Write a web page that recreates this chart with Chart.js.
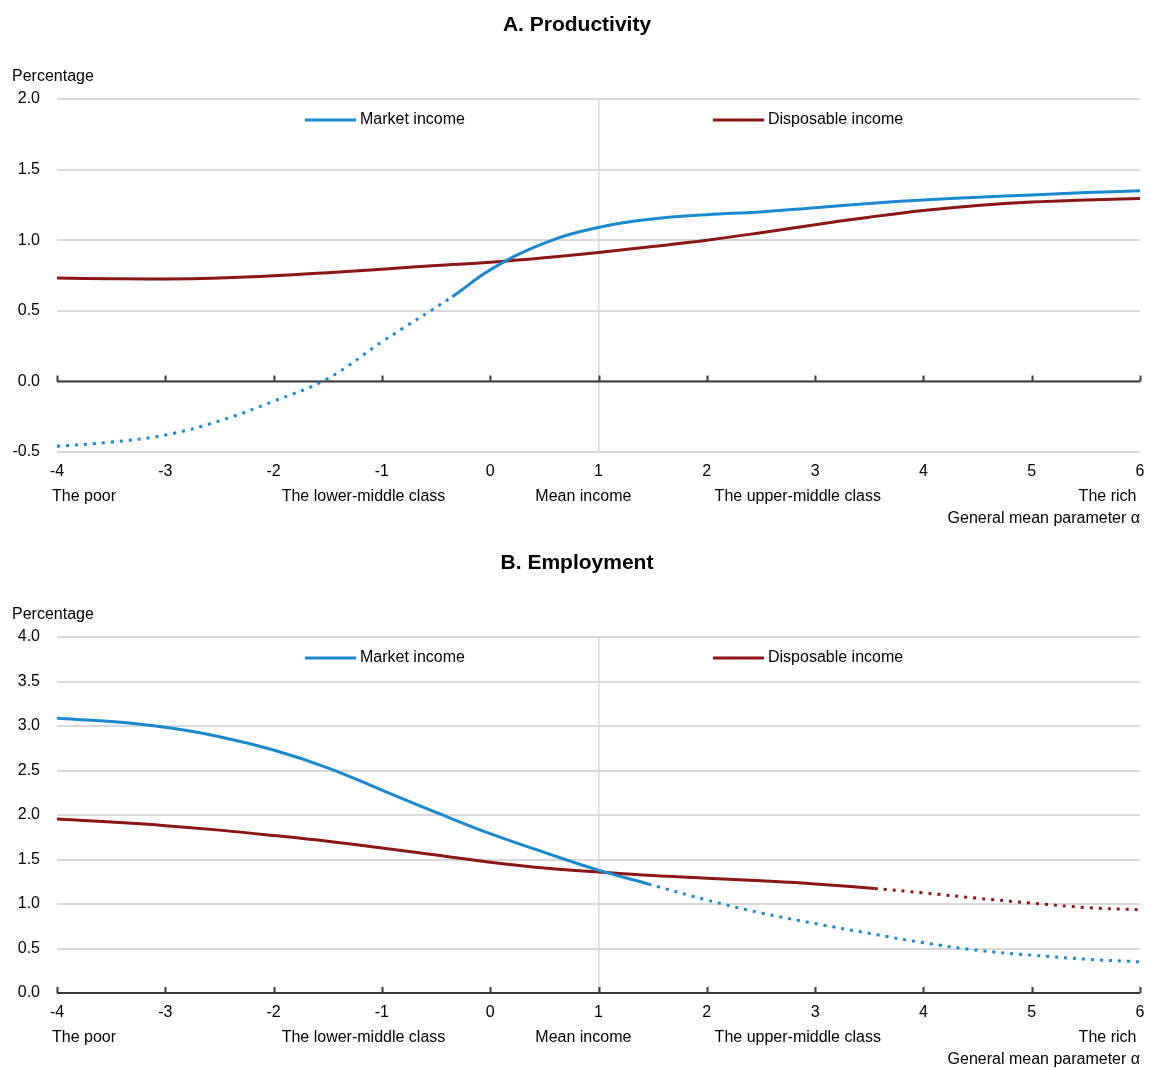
<!DOCTYPE html>
<html>
<head>
<meta charset="utf-8">
<script src="https://cdn.jsdelivr.net/npm/chart.js@4.4.1/dist/chart.umd.min.js"></script>
<style>
  html, body { margin: 0; padding: 0; background: #fff; }
  canvas { display: block; }
</style>
</head>
<body>
<canvas id="chartA" width="1149" height="538"></canvas>
<canvas id="chartB" width="1149" height="530"></canvas>
<script>
// --- data ---
const classLabels = ['The poor', 'The lower-middle class', 'Mean income', 'The upper-middle class', 'The rich'];
const classAt = [-3.75, -1.17, 0.86, 2.84, 5.7];   // centre of each class label, in alpha units

// Panel A: productivity
const alphaMarketA = [-4, -3.5, -3, -2.5, -2, -1.5, -1, -0.35, 0, 0.5, 1, 1.5, 2, 2.5, 3, 3.5, 4, 4.5, 5, 5.5, 6];
const marketA      = [-0.46, -0.43, -0.38, -0.28, -0.14, 0.02, 0.28, 0.60, 0.79, 0.98, 1.09, 1.15, 1.18, 1.20, 1.23, 1.26, 1.285, 1.305, 1.32, 1.337, 1.35];
const alphaDispA   = [-4, -3.5, -3, -2.5, -2, -1.5, -1, -0.5, 0, 0.5, 1, 1.5, 2, 2.5, 3, 3.5, 4, 4.5, 5, 5.5, 6];
const dispA        = [0.732, 0.727, 0.726, 0.733, 0.748, 0.77, 0.795, 0.82, 0.843, 0.875, 0.913, 0.955, 1.0, 1.053, 1.11, 1.163, 1.21, 1.245, 1.27, 1.285, 1.295];
const dottedMarketA = [-4, -0.35];

// Panel B: employment
const alphaMarketB = [-4, -3.5, -3, -2.5, -2, -1.5, -1, -0.5, 0, 0.5, 1, 1.46, 2, 2.5, 3, 3.5, 4, 4.5, 5, 5.5, 6];
const marketB      = [3.086, 3.05, 2.985, 2.88, 2.73, 2.53, 2.28, 2.03, 1.79, 1.58, 1.38, 1.225, 1.045, 0.90, 0.78, 0.67, 0.565, 0.48, 0.425, 0.38, 0.35];
const alphaDispB   = [-4, -3.5, -3, -2.5, -2, -1.5, -1, -0.5, 0, 0.5, 1, 1.5, 2, 2.5, 3, 3.55, 4, 4.5, 5, 5.5, 6];
const dispB        = [1.955, 1.92, 1.88, 1.83, 1.77, 1.705, 1.63, 1.55, 1.47, 1.405, 1.36, 1.32, 1.29, 1.26, 1.225, 1.175, 1.125, 1.065, 1.01, 0.96, 0.935];
const dottedMarketB = [1.46, 6];
const dottedDispB   = [3.55, 6];

const BLUE = '#1a8ad0';
const RED = '#8c1515';
const GRID = '#d9d9d9';
const FONT = '"Liberation Sans", Arial, sans-serif';

function lineDs(label, xs, ys, color, dotted){
  return {
    label,
    data: xs.map((x, i) => ({ x, y: ys[i] })),
    borderColor: color,
    borderWidth: 3,
    pointRadius: 0,
    fill: false,
    tension: 0.4,
    segment: {
      borderDash: ctx => (dotted && ctx.p0.parsed.x >= dotted[0] - 1e-9 && ctx.p1.parsed.x <= dotted[1] + 1e-9) ? [3, 6] : undefined
    }
  };
}

// draws the titles, legend, class labels and the zero axis
function decor(title){
  return {
    id: 'decor',
    beforeDatasetsDraw(chart){
      const { ctx, chartArea, scales } = chart;
      const y0 = scales.y.getPixelForValue(0);
      ctx.save();
      ctx.strokeStyle = '#3a3a3a';
      ctx.lineWidth = 2;
      ctx.beginPath();
      ctx.moveTo(chartArea.left, y0);
      ctx.lineTo(chartArea.right, y0);
      for(let v = -4; v <= 6; v++){
        const x = Math.round(scales.x.getPixelForValue(v)) + 0.5;
        ctx.moveTo(x, y0);
        ctx.lineTo(x, y0 - 6);
      }
      ctx.stroke();
      ctx.restore();
    },
    afterDraw(chart){
      const { ctx, chartArea, scales } = chart;
      ctx.save();
      ctx.fillStyle = '#000';
      ctx.textBaseline = 'middle';

      ctx.font = 'bold 21px ' + FONT;
      ctx.textAlign = 'center';
      ctx.fillText(title, 577, 25);

      ctx.font = '16px ' + FONT;
      ctx.textAlign = 'left';
      ctx.fillText('Percentage', 12, 77);

      // legend
      const ly = chartArea.top + 21;
      [[BLUE, 'Market income', 248], [RED, 'Disposable income', 656]].forEach(([c, t, off]) => {
        const lx = chartArea.left + off;
        ctx.strokeStyle = c;
        ctx.lineWidth = 3;
        ctx.beginPath();
        ctx.moveTo(lx, ly);
        ctx.lineTo(lx + 51, ly);
        ctx.stroke();
        ctx.fillText(t, lx + 55, ly);
      });

      // class labels
      ctx.textAlign = 'center';
      const cy = chartArea.bottom + 45;
      classLabels.forEach((t, i) => ctx.fillText(t, scales.x.getPixelForValue(classAt[i]), cy));

      ctx.textAlign = 'right';
      ctx.fillText('General mean parameter \u03b1', chartArea.right, chartArea.bottom + 67);
      ctx.restore();
    }
  };
}

function makeChart(id, title, yMin, yMax, datasets){
  return new Chart(document.getElementById(id), {
    type: 'line',
    data: { datasets },
    options: {
      responsive: false,
      animation: false,
      layout: { padding: { top: 99, right: 9, left: 0, bottom: 0 } },
      plugins: { legend: { display: false }, tooltip: { enabled: false } },
      scales: {
        x: {
          type: 'linear',
          min: -4, max: 6,
          afterFit: s => {
            s.height = id === 'chartA' ? 86 : 75;
            s.paddingLeft = 0;
            s.paddingRight = 0;
          },
          border: { display: false },
          grid: {
            drawTicks: false,
            lineWidth: 1.5,
            color: c => (c.tick && c.tick.value === 1) ? GRID : 'rgba(0,0,0,0)'
          },
          ticks: { stepSize: 1, padding: 10, color: '#000', font: { family: FONT, size: 16 } }
        },
        y: {
          min: yMin, max: yMax,
          afterFit: s => { s.width = 57; },
          border: { display: false },
          grid: { drawTicks: false, color: GRID, lineWidth: 2 },
          ticks: {
            stepSize: 0.5, padding: 17, color: '#000',
            font: { family: FONT, size: 16 },
            callback: v => v.toFixed(1)
          }
        }
      }
    },
    plugins: [decor(title)]
  });
}

makeChart('chartA', 'A. Productivity', -0.5, 2.0, [
  lineDs('Market income', alphaMarketA, marketA, BLUE, dottedMarketA),
  lineDs('Disposable income', alphaDispA, dispA, RED, null)
]);

makeChart('chartB', 'B. Employment', 0, 4.0, [
  lineDs('Market income', alphaMarketB, marketB, BLUE, dottedMarketB),
  lineDs('Disposable income', alphaDispB, dispB, RED, dottedDispB)
]);
</script>
</body>
</html>
